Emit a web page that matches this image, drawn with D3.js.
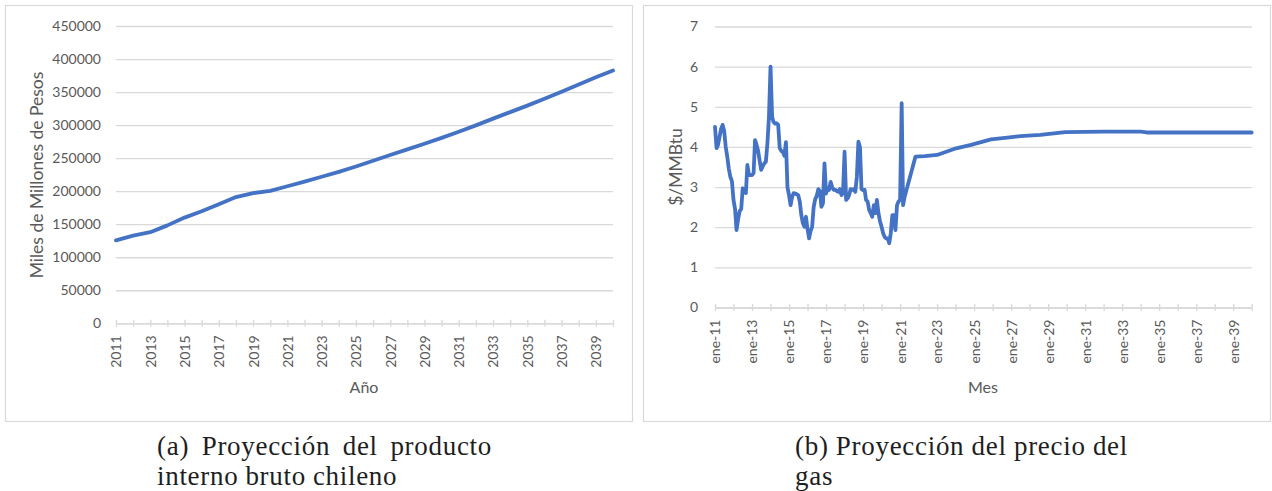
<!DOCTYPE html>
<html>
<head>
<meta charset="utf-8">
<script src="https://cdn.jsdelivr.net/npm/d3@7"></script>
<style>
  body { margin: 0; background: #fff; }
  svg { display: block; }
</style>
</head>
<body>
<svg id="fig" width="1272" height="491"></svg>
<script>
// ---- (a) Producto interno bruto, miles de millones de pesos ----
const gdpYears = [2011, 2012, 2013, 2014, 2015, 2016, 2017, 2018, 2019, 2020,
                  2021, 2022, 2023, 2024, 2025, 2026, 2027, 2028, 2029, 2030,
                  2031, 2032, 2033, 2034, 2035, 2036, 2037, 2038, 2039, 2040];
const gdpValues = [125500, 132600, 137900, 148200, 160000, 169500, 180300, 191000, 197000, 200500,
                   207500, 214500, 221800, 229300, 237300, 246000, 254800, 263300, 271800, 280700,
                   290000, 299600, 309800, 319600, 329500, 339800, 350600, 361300, 372300, 382700];
const gdpTicks = [0, 50000, 100000, 150000, 200000, 250000, 300000, 350000, 400000, 450000];

// ---- (b) Precio del gas, $/MMBtu (histórico mensual y proyección) ----
const gasDates = [
  "2011-01","2011-02","2011-03","2011-04","2011-05","2011-06","2011-07","2011-08","2011-09","2011-10","2011-11","2011-12",
  "2012-01","2012-02","2012-03","2012-04","2012-05","2012-06","2012-07","2012-08","2012-09","2012-10","2012-11","2012-12",
  "2013-01","2013-02","2013-03","2013-04","2013-05","2013-06","2013-07","2013-08","2013-09","2013-10","2013-11","2013-12",
  "2014-01","2014-02","2014-03","2014-04","2014-05","2014-06","2014-07","2014-08","2014-09","2014-10","2014-11","2014-12",
  "2015-01","2015-02","2015-03","2015-04","2015-05","2015-06","2015-07","2015-08","2015-09","2015-10","2015-11","2015-12",
  "2016-01","2016-02","2016-03","2016-04","2016-05","2016-06","2016-07","2016-08","2016-09","2016-10","2016-11","2016-12",
  "2017-01","2017-02","2017-03","2017-04","2017-05","2017-06","2017-07","2017-08","2017-09","2017-10","2017-11","2017-12",
  "2018-01","2018-02","2018-03","2018-04","2018-05","2018-06","2018-07","2018-08","2018-09","2018-10","2018-11","2018-12",
  "2019-01","2019-02","2019-03","2019-04","2019-05","2019-06","2019-07","2019-08","2019-09","2019-10","2019-11","2019-12",
  "2020-01","2020-02","2020-03","2020-04","2020-05","2020-06","2020-07","2020-08","2020-09","2020-10","2020-11","2020-12",
  "2021-01","2021-02","2021-03","2021-04",
  "2021-11","2022-05","2023-01","2023-12","2024-11","2025-12","2026-12","2027-07",
  "2028-08","2029-12","2032-01","2034-01","2034-05","2040-01"
];
const gasPrices = [
  4.50, 3.97, 4.05, 4.25, 4.45, 4.55, 4.40, 4.00, 3.75, 3.45, 3.25, 3.15,
  2.68, 2.45, 1.93, 2.20, 2.40, 2.45, 2.97, 2.93, 2.85, 3.55, 3.30, 3.30,
  3.30, 3.35, 4.17, 4.05, 3.90, 3.65, 3.43, 3.52, 3.59, 3.63, 4.10, 4.75,
  6.00, 4.75, 4.62, 4.58, 4.59, 4.55, 3.97, 3.90, 3.88, 3.78, 4.12, 3.00,
  2.80, 2.55, 2.75, 2.85, 2.84, 2.82, 2.80, 2.64, 2.30, 2.10, 2.01, 2.26,
  1.95, 1.72, 1.90, 2.01, 2.50, 2.70, 2.78, 2.95, 2.90, 2.51, 2.60, 3.59,
  2.84, 2.97, 2.93, 3.13, 3.00, 2.93, 2.93, 2.90, 2.88, 2.95, 2.80, 2.85,
  3.88, 2.68, 2.72, 2.80, 2.95, 2.93, 2.95, 2.88, 3.26, 4.13, 4.00, 2.95,
  2.92, 2.93, 2.68, 2.64, 2.43, 2.35, 2.26, 2.55, 2.35, 2.68, 2.35, 2.15,
  2.01, 1.85, 1.76, 1.72, 1.72, 1.60, 1.85, 2.30, 2.30, 1.93, 2.55, 2.64,
  2.68, 5.09, 2.55, 2.76,
  3.76, 3.77, 3.80, 3.95, 4.05, 4.19, 4.24, 4.27,
  4.30, 4.37, 4.38, 4.38, 4.36, 4.36
];
const gasTicks = [0, 1, 2, 3, 4, 5, 6, 7];

// ---- captions ----
const captionA = [["(a)", "Proyección", "del", "producto"], ["interno", "bruto", "chileno"]];
const captionB = [["(b)", "Proyección", "del", "precio", "del"], ["gas"]];

// ---- styling ----
const SANS = "Lato, 'Open Sans', sans-serif";
const SERIF = "'Liberation Serif', 'Times New Roman', serif";
const GRID = "#d9d9d9";
const TEXT = "#595959";
const BLUE = "#4472c4";

const svg = d3.select("#fig");
svg.append("rect").attr("width", 1272).attr("height", 491).attr("fill", "#fff");

// chart frames
const frames = [{x: 5, y: 5, w: 627, h: 416}, {x: 643, y: 5, w: 627, h: 416}];
svg.selectAll("rect.frame").data(frames).join("rect")
  .attr("class", "frame")
  .attr("x", d => d.x + 0.5).attr("y", d => d.y + 0.5)
  .attr("width", d => d.w).attr("height", d => d.h)
  .attr("fill", "none").attr("stroke", GRID).attr("stroke-width", 1.2);

function styleText(sel, size) {
  sel.attr("font-family", SANS).attr("font-size", size).attr("fill", TEXT);
}

function drawPanel(cfg) {
  const g = svg.append("g");
  const {x, y, box} = cfg;

  // horizontal gridlines
  g.append("g")
    .attr("transform", `translate(${box.left},0)`)
    .call(d3.axisLeft(y).tickValues(cfg.yTicks).tickSize(-(box.right - box.left)).tickFormat(""))
    .call(s => s.select(".domain").remove())
    .selectAll("line").attr("stroke", GRID).attr("stroke-width", 1.3);

  // y tick labels
  const gy = g.append("g")
    .attr("transform", `translate(${box.left},0)`)
    .call(d3.axisLeft(y).tickValues(cfg.yTicks).tickSize(0).tickPadding(cfg.yPad).tickFormat(d3.format("d")));
  gy.select(".domain").remove();
  gy.selectAll("text").call(styleText, 14);

  // category / date axis with crossing tick marks
  const gx = g.append("g")
    .attr("transform", `translate(0,${box.bottom})`)
    .call(d3.axisBottom(x).tickValues(cfg.xTicks).tickSizeOuter(0).tickSizeInner(0).tickFormat(cfg.xFormat));
  gx.select(".domain").attr("stroke", GRID).attr("stroke-width", 1.3);
  gx.selectAll(".tick line").attr("y1", -3.5).attr("y2", 3.5).attr("stroke", GRID).attr("stroke-width", 1.3);
  gx.selectAll(".tick text")
    .attr("transform", "rotate(-90)")
    .attr("text-anchor", "end")
    .attr("x", -12).attr("y", 0).attr("dy", "0.35em")
    .call(styleText, 14);

  // series line
  g.append("path")
    .datum(cfg.points)
    .attr("fill", "none")
    .attr("stroke", BLUE)
    .attr("stroke-width", 3.8)
    .attr("stroke-linejoin", "round")
    .attr("stroke-linecap", "round")
    .attr("d", d3.line().x(d => x(d.k)).y(d => y(d.v)));

  // axis titles
  g.append("text")
    .attr("transform", `translate(${cfg.yTitlePos[0]},${cfg.yTitlePos[1]}) rotate(-90)`)
    .attr("text-anchor", "middle").attr("dy", "0.35em")
    .text(cfg.yTitle).call(styleText, 17.5);
  g.append("text")
    .attr("x", cfg.xTitlePos[0]).attr("y", cfg.xTitlePos[1])
    .attr("text-anchor", "middle").attr("dy", "0.35em")
    .text(cfg.xTitle).call(styleText, 16);
}

// ---- panel (a) ----
const boxA = {left: 116, right: 613, top: 26, bottom: 323.3};
const xA = d3.scalePoint().domain(gdpYears).range([boxA.left, boxA.right]);
const yA = d3.scaleLinear().domain([0, 450000]).range([boxA.bottom, boxA.top]);
drawPanel({
  x: xA, y: yA, box: boxA,
  yTicks: gdpTicks, yPad: 15,
  xTicks: gdpYears,
  xFormat: d => ((d - gdpYears[0]) % 2 === 0 && d !== gdpYears[gdpYears.length - 1]) ? String(d) : "",
  points: gdpYears.map((yr, i) => ({k: yr, v: gdpValues[i]})),
  yTitle: "Miles de Millones de Pesos", yTitlePos: [37, 175],
  xTitle: "Año", xTitlePos: [364, 387]
});

// ---- panel (b) ----
const esLocale = d3.timeFormatLocale({
  dateTime: "%A, %e de %B de %Y, %X", date: "%d/%m/%Y", time: "%H:%M:%S",
  periods: ["AM", "PM"],
  days: ["domingo", "lunes", "martes", "miércoles", "jueves", "viernes", "sábado"],
  shortDays: ["dom", "lun", "mar", "mié", "jue", "vie", "sáb"],
  months: ["enero", "febrero", "marzo", "abril", "mayo", "junio", "julio", "agosto",
           "septiembre", "octubre", "noviembre", "diciembre"],
  shortMonths: ["ene", "feb", "mar", "abr", "may", "jun", "jul", "ago", "sep", "oct", "nov", "dic"]
});
const fmtMonth = esLocale.format("%b-%y");
const parseMonth = d3.timeParse("%Y-%m");

const boxB = {left: 715, right: 1251.7, top: 26.5, bottom: 307.5};
const startB = new Date(2011, 0, 1), endB = new Date(2040, 0, 1);
const xB = d3.scaleTime().domain([startB, endB]).range([boxB.left, boxB.right]);
const yB = d3.scaleLinear().domain([0, 7]).range([boxB.bottom, boxB.top]);
const yearTicks = d3.timeYear.range(startB, d3.timeDay.offset(endB, 1));
drawPanel({
  x: xB, y: yB, box: boxB,
  yTicks: gasTicks, yPad: 17,
  xTicks: yearTicks,
  xFormat: d => ((d.getFullYear() - 2011) % 2 === 0 && d < endB) ? fmtMonth(d) : "",
  points: gasDates.map((s, i) => ({k: parseMonth(s), v: gasPrices[i]})),
  yTitle: "$/MMBtu", yTitlePos: [676, 167],
  xTitle: "Mes", xTitlePos: [983, 387]
});

// ---- sub-captions (justified first line, ragged last line) ----
function caption(lines, x0, x1, baselines) {
  const g = svg.append("g")
    .attr("font-family", SERIF).attr("font-size", 27).attr("fill", "#1e1e1e")
    .attr("letter-spacing", 0.7);
  lines.forEach((words, li) => {
    const texts = words.map(w => g.append("text").attr("y", baselines[li]).text(w));
    const widths = texts.map(t => t.node().getComputedTextLength());
    const last = li === lines.length - 1;
    let gap = 7;
    if (!last && words.length > 1) {
      gap = (x1 - x0 - d3.sum(widths)) / (words.length - 1);
    }
    let cx = x0;
    texts.forEach((t, i) => { t.attr("x", cx); cx += widths[i] + gap; });
  });
}
caption(captionA, 157, 492, [455, 485]);
caption(captionB, 795, 1128, [455, 485]);
</script>
</body>
</html>
